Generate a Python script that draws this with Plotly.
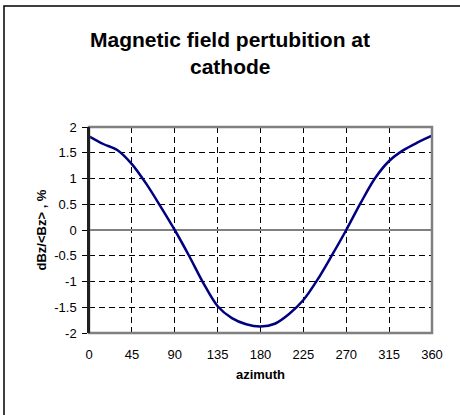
import plotly.graph_objects as go

azimuth = [0, 15, 30, 45, 60, 75, 90, 105, 120, 135, 150, 165, 180,
           195, 210, 225, 240, 255, 270, 285, 300, 315, 330, 345, 360]
dbz = [1.82, 1.67, 1.55, 1.28, 0.90, 0.46, 0.0, -0.50, -1.03, -1.48, -1.71, -1.83, -1.875,
       -1.82, -1.63, -1.36, -0.96, -0.49, 0.0, 0.52, 1.0, 1.34, 1.55, 1.70, 1.83]
x_ticks = [0, 45, 90, 135, 180, 225, 270, 315, 360]
y_ticks = [-2, -1.5, -1, -0.5, 0, 0.5, 1, 1.5, 2]
y_tick_labels = ["-2", "-1.5", "-1", "-0.5", "0", "0.5", "1", "1.5", "2"]

FONT = "Liberation Sans, Arial, sans-serif"

fig = go.Figure()
fig.add_trace(go.Scatter(
    x=azimuth, y=dbz, mode="lines",
    line=dict(color="#000080", width=2.5, shape="spline", smoothing=0.9),
    showlegend=False, hoverinfo="skip"))

fig.update_layout(
    width=460, height=415,
    margin=dict(l=89, r=28, t=127, b=82),
    paper_bgcolor="white", plot_bgcolor="white",
    font=dict(family=FONT, size=13, color="black"),
    xaxis=dict(
        range=[0, 360], tickvals=x_ticks, ticktext=[str(v) for v in x_ticks],
        showgrid=True, gridcolor="black", gridwidth=1, griddash="6px,4px",
        showline=False, zeroline=False, ticks="", ticklabelstandoff=12,
        tickfont=dict(size=13),
        title=dict(text="<b>azimuth</b>", font=dict(size=13), standoff=8),
        fixedrange=True,
    ),
    yaxis=dict(
        range=[-2, 2], tickvals=y_ticks, ticktext=y_tick_labels,
        showgrid=True, gridcolor="black", gridwidth=1, griddash="6px,4px",
        zeroline=True, zerolinecolor="#808080", zerolinewidth=2,
        showline=True, linecolor="black", linewidth=1.5,
        ticks="outside", ticklen=5, tickcolor="black", tickwidth=1,
        ticklabelstandoff=3, tickfont=dict(size=13),
        title=dict(text="<b>dBz/&lt;Bz&gt; , %</b>", font=dict(size=13), standoff=5),
        fixedrange=True,
    ),
    shapes=[
        dict(type="rect", xref="paper", yref="paper", x0=0, x1=1, y0=0, y1=1,
             line=dict(color="#808080", width=2.5), layer="above"),
        dict(type="line", xref="paper", yref="paper", x0=0, x1=0, y0=0, y1=1,
             line=dict(color="black", width=1.5), layer="above"),
        dict(type="rect", xref="paper", yref="paper",
             x0=(4 - 89) / 343, x1=1.3, y0=-0.6, y1=(333 - 6) / 206,
             line=dict(color="black", width=1.5), layer="above"),
    ],
    annotations=[
        dict(text="<b>Magnetic field pertubition at</b>", xref="paper", yref="paper",
             x=(230 - 89) / 343, y=(333 - 39) / 206, showarrow=False,
             font=dict(size=21, family=FONT), xanchor="center", yanchor="middle"),
        dict(text="<b>cathode</b>", xref="paper", yref="paper",
             x=(230 - 89) / 343, y=(333 - 67) / 206, showarrow=False,
             font=dict(size=21, family=FONT), xanchor="center", yanchor="middle"),
    ],
)

fig.write_html("out.html", config={"displayModeBar": False},
               post_script="document.body.style.margin='0px';")
